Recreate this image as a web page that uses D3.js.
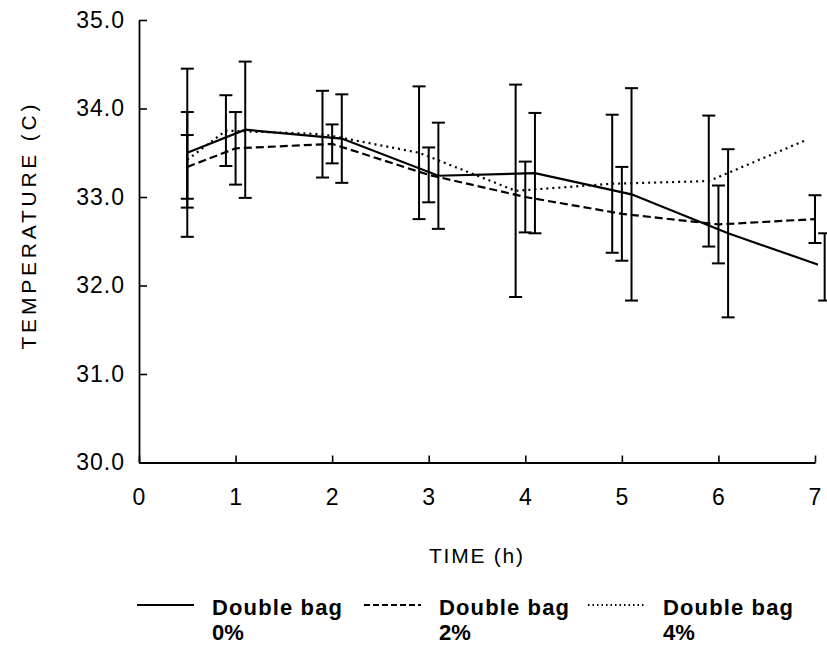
<!DOCTYPE html>
<html>
<head>
<meta charset="utf-8">
<script src="https://cdn.jsdelivr.net/npm/d3@7"></script>
<style>
  body { margin: 0; background: #fff; }
  svg { display: block; font-family: "Liberation Sans", Arial, sans-serif; }
</style>
</head>
<body>
<svg id="chart" width="827" height="648"></svg>
<script>
// values (time in h, temperature in C, +/- error)
const legendLabels = ['Double bag', 'Double bag', 'Double bag'];
const legendPercents = ['0%', '2%', '4%'];

const hours0 = [0.5, 1.1, 2.1, 3.1, 4.1, 5.1, 6.1, 7.1];
const temp0 = [33.50, 33.76, 33.66, 33.24, 33.27, 33.03, 32.59, 32.21];
const err0 = [0.95, 0.77, 0.50, 0.60, 0.68, 1.20, 0.95, 0.38];

const hours2 = [0.5, 1, 2, 3, 4, 5, 6, 7];
const temp2 = [33.34, 33.55, 33.60, 33.25, 33.00, 32.81, 32.69, 32.75];
const err2 = [0.36, 0.41, 0.22, 0.31, 0.40, 0.53, 0.44, 0.27];

const hours4 = [0.5, 0.9, 1.9, 2.9, 3.9, 4.9, 5.9, 6.9];
const temp4 = [33.42, 33.75, 33.71, 33.50, 33.07, 33.15, 33.18, 33.64];
const err4 = [0.54, 0.40, 0.49, 0.75, 1.20, 0.78, 0.74, null];

const xTicks = [0, 1, 2, 3, 4, 5, 6, 7];
const yTicks = [30, 31, 32, 33, 34, 35];

const styles = [
    { dash: null, legendDash: null },
    { dash: '8,4', legendDash: '6,3' },
    { dash: '2,4', legendDash: '1.5,3' }
];

const series = [
    { hours: hours0, temp: temp0, err: err0 },
    { hours: hours2, temp: temp2, err: err2 },
    { hours: hours4, temp: temp4, err: err4 }
].map(s => s.hours.map((h, i) => ({ h, t: s.temp[i], e: s.err[i] })));

const svg = d3.select('#chart');
const plotLeft = 139, plotRight = 815, plotTop = 20, plotBottom = 462.5;

const x = d3.scaleLinear().domain([0, 7]).range([plotLeft, plotRight]);
const y = d3.scaleLinear().domain([30, 35]).range([plotBottom, plotTop]);

svg.append('defs').append('clipPath')
    .attr('id', 'plotClip')
    .append('rect')
    .attr('x', plotLeft).attr('y', 0)
    .attr('width', plotRight - plotLeft + 3).attr('height', plotBottom);

// axes
const yAxis = svg.append('g')
    .attr('transform', `translate(${plotLeft},0)`)
    .call(d3.axisLeft(y).tickValues(yTicks).tickFormat(d3.format('.1f'))
        .tickSizeInner(-8).tickSizeOuter(0).tickPadding(14));

const xAxis = svg.append('g')
    .attr('transform', `translate(0,${plotBottom})`)
    .call(d3.axisBottom(x).tickValues(xTicks).tickFormat(d3.format('d'))
        .tickSizeInner(-7).tickSizeOuter(0).tickPadding(26));

[xAxis, yAxis].forEach(g => {
    g.select('.domain').attr('stroke', '#000').attr('stroke-width', 1.8);
    g.selectAll('.tick line').attr('stroke', '#000').attr('stroke-width', 1.6);
    g.selectAll('.tick text')
        .attr('fill', '#000')
        .attr('font-size', 23)
        .attr('letter-spacing', 1)
        .attr('font-family', '"Liberation Sans", Arial, sans-serif');
});

svg.append('text')
    .attr('transform', 'translate(36,227) rotate(-90)')
    .attr('text-anchor', 'middle')
    .attr('font-size', 21)
    .attr('textLength', 245)
    .attr('lengthAdjust', 'spacing')
    .text('TEMPERATURE (C)');

svg.append('text')
    .attr('x', 476)
    .attr('y', 563)
    .attr('text-anchor', 'middle')
    .attr('font-size', 21)
    .attr('textLength', 94)
    .attr('lengthAdjust', 'spacing')
    .text('TIME (h)');

// error bars
const capW = 6.5;
series.forEach(pts => {
    const bars = svg.append('g')
        .attr('stroke', '#000')
        .attr('stroke-width', 2)
        .selectAll('g')
        .data(pts.filter(d => d.e != null))
        .enter()
        .append('g');

    bars.append('line')
        .attr('x1', d => x(d.h)).attr('x2', d => x(d.h))
        .attr('y1', d => y(d.t + d.e)).attr('y2', d => y(d.t - d.e));
    bars.append('line')
        .attr('x1', d => x(d.h) - capW).attr('x2', d => x(d.h) + capW)
        .attr('y1', d => y(d.t + d.e)).attr('y2', d => y(d.t + d.e));
    bars.append('line')
        .attr('x1', d => x(d.h) - capW).attr('x2', d => x(d.h) + capW)
        .attr('y1', d => y(d.t - d.e)).attr('y2', d => y(d.t - d.e));
});

// series lines
const lineGen = d3.line().x(d => x(d.h)).y(d => y(d.t));
series.forEach((pts, i) => {
    svg.append('path')
        .datum(pts)
        .attr('clip-path', 'url(#plotClip)')
        .attr('d', lineGen)
        .attr('fill', 'none')
        .attr('stroke', '#000')
        .attr('stroke-width', 2.2)
        .attr('stroke-dasharray', styles[i].dash);
});

// legend
const legendX = [137, 364, 588];
const legend = svg.append('g')
    .selectAll('g')
    .data(legendLabels)
    .enter()
    .append('g')
    .attr('transform', (d, i) => `translate(${legendX[i]},0)`);

legend.append('line')
    .attr('x1', 0).attr('x2', 57)
    .attr('y1', 605).attr('y2', 605)
    .attr('stroke', '#000')
    .attr('stroke-width', 2)
    .attr('stroke-dasharray', (d, i) => styles[i].legendDash);

legend.append('text')
    .attr('x', 75)
    .attr('y', 615)
    .attr('font-size', 22)
    .attr('font-weight', 'bold')
    .attr('textLength', 130)
    .attr('lengthAdjust', 'spacing')
    .text(d => d);

legend.append('text')
    .attr('x', 75)
    .attr('y', 640)
    .attr('font-size', 22)
    .attr('font-weight', 'bold')
    .text((d, i) => legendPercents[i]);
</script>
</body>
</html>
